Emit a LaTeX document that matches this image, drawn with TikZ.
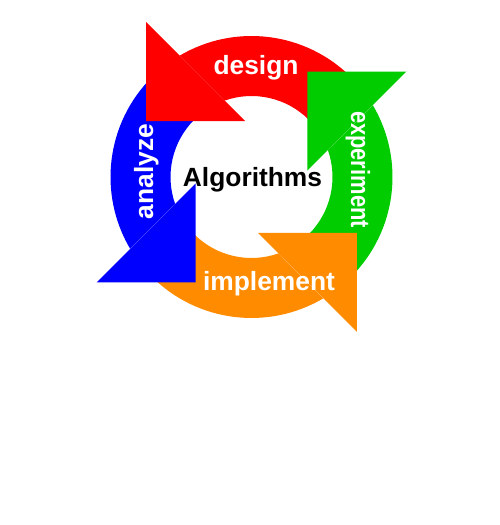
\documentclass[tikz,border=0pt]{standalone}
\usepackage{fontspec}
\setmainfont{Liberation Sans}
\definecolor{desred}{HTML}{FF0000}
\definecolor{expgreen}{HTML}{00CC00}
\definecolor{anblue}{HTML}{0000FF}
\definecolor{imporange}{HTML}{FF8C00}
\tikzset{
  steplabel/.style={text=white, font=\fontsize{15}{18}\selectfont\bfseries,
    inner sep=0pt, anchor=base},
}
\begin{document}
\begin{tikzpicture}

% Page frame
\useasboundingbox (0,0) rectangle (10,10.5);

% ================================================================
% Cycle ring around (5.03,6.96): outer 2.82, inner 1.62
% ================================================================
\begin{scope}[shift={(5.03,6.96)}]
% Bodies: each quarter starts under the head before it
\foreach \a/\col in {45/expgreen, 135/desred, 225/anblue, 315/imporange} {
  \fill[\col] (\a-90:2.82) arc[start angle=\a-90, end angle=\a-14.4, radius=2.82]
    -- (\a-25.6:1.62) arc[start angle=\a-25.6, end angle=\a-90, radius=1.62] -- cycle;
}
% Heads (on top of all bodies)
\foreach \a/\col in {45/expgreen, 135/desred, 225/anblue, 315/imporange} {
  \fill[\col, rotate=\a] (0.88,-0.70) -- (3.68,-0.70) -- (2.28,0.70) -- cycle;
}
\end{scope}

% Labels
\node[steplabel] (design) at (5.12,9.0) {design};
\node[steplabel, rotate=-90, xscale=0.83] (experiment) at (7.02,7.11) {experiment};
\node[steplabel] (implement) at (5.38,4.68) {implement};
\node[steplabel, rotate=90] (analyze) at (3.06,7.07) {analyze};

% Centre
\node[font=\fontsize{15}{18}\selectfont\bfseries, inner sep=0pt, anchor=base]
  (algo) at (5.05,6.76) {Algorithms};

\end{tikzpicture}
\end{document}
